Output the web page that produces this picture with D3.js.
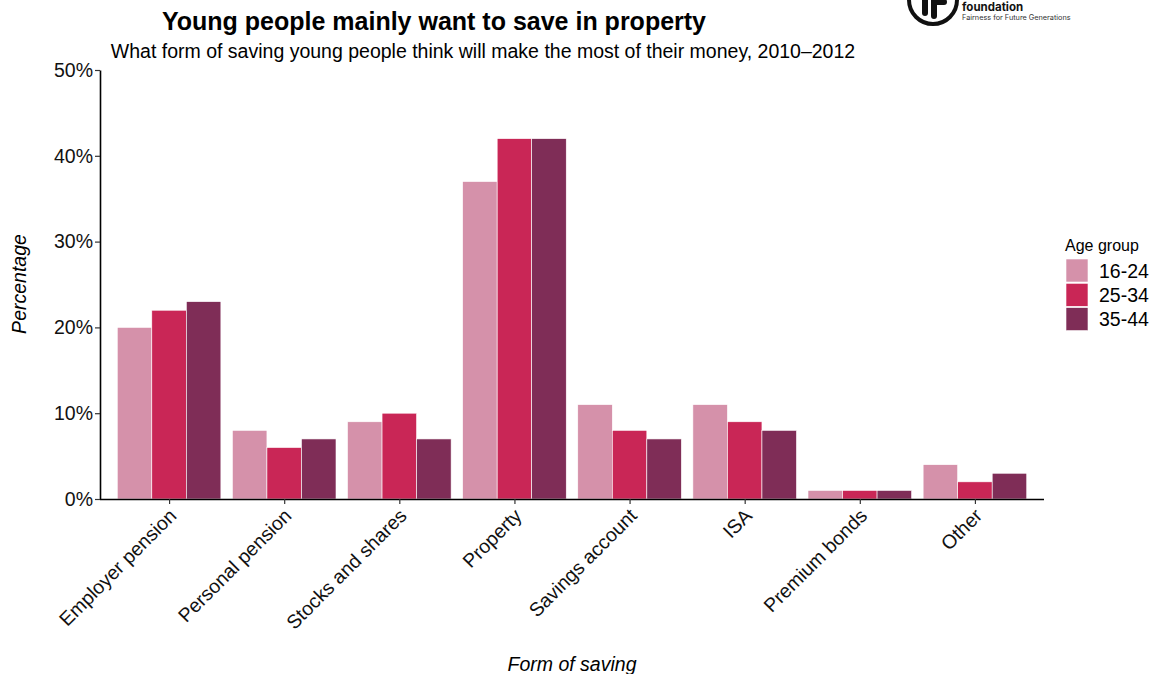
<!DOCTYPE html>
<html>
<head>
<meta charset="utf-8">
<script src="https://cdn.jsdelivr.net/npm/d3@7"></script>
<style>
  html, body { margin: 0; padding: 0; background: #fff; }
  svg { display: block; font-family: "Liberation Sans", Arial, sans-serif; }
</style>
</head>
<body>
<svg id="chart" width="1157" height="674"></svg>
<script>
// Survey categories and per-age-group shares (%)
const categories = ["Employer pension", "Personal pension", "Stocks and shares", "Property",
                    "Savings account", "ISA", "Premium bonds", "Other"];
const ageGroups = ["16-24", "25-34", "35-44"];
const values1624 = [20, 8, 9, 37, 11, 11, 1, 4];
const values2534 = [22, 6, 10, 42, 8, 9, 1, 2];
const values3544 = [23, 7, 7, 42, 7, 8, 1, 3];
const yTicks = [0, 10, 20, 30, 40, 50];
const colours = ["#d591aa", "#c92656", "#7f2d57"];

const seriesValues = [values1624, values2534, values3544];
const rows = [];
categories.forEach((c, i) => {
  ageGroups.forEach((g, j) => rows.push({ category: c, group: g, value: seriesValues[j][i] }));
});

const svg = d3.select("#chart");
const plotLeft = 100, plotRight = 1044, plotTop = 70, plotBottom = 499;
const labelSize = 19.5;

// discrete scale with 0.6-step padding either side
const step = (plotRight - plotLeft) / (categories.length - 1 + 1.2);
const xCenter = d3.scalePoint().domain(categories)
  .range([plotLeft + 0.6 * step, plotRight - 0.6 * step]);
const groupWidth = step * 0.9;
const xInner = d3.scaleBand().domain(ageGroups).range([-groupWidth / 2, groupWidth / 2]).padding(0);
const y = d3.scaleLinear().domain([0, 50]).range([plotBottom, plotTop]);
const colour = d3.scaleOrdinal().domain(ageGroups).range(colours);

// bars
svg.append("g").selectAll("rect").data(rows).join("rect")
  .attr("x", d => xCenter(d.category) + xInner(d.group))
  .attr("width", xInner.bandwidth())
  .attr("y", d => y(d.value))
  .attr("height", d => y(0) - y(d.value))
  .attr("fill", d => colour(d.group))
  .attr("stroke", "#fff")
  .attr("stroke-width", 0.6);

// y axis
const yAxis = svg.append("g").attr("transform", `translate(${plotLeft},0)`)
  .call(d3.axisLeft(y).tickValues(yTicks).tickFormat(d => d + "%").tickSize(5).tickSizeOuter(0));
yAxis.select(".domain").attr("stroke", "#000").attr("stroke-width", 1.6);
yAxis.selectAll(".tick line").attr("stroke", "#333").attr("stroke-width", 1.2);
yAxis.selectAll(".tick text").attr("font-size", labelSize).attr("fill", "#111")
  .attr("x", -7).attr("font-family", "Liberation Sans, Arial, sans-serif");

// x axis
const xAxis = svg.append("g").attr("transform", `translate(0,${plotBottom})`)
  .call(d3.axisBottom(xCenter).tickSize(5).tickSizeOuter(0));
xAxis.select(".domain").attr("stroke", "#000").attr("stroke-width", 1.6)
  .attr("d", `M${plotLeft},0.5H${plotRight}`);
xAxis.selectAll(".tick line").attr("stroke", "#333").attr("stroke-width", 1.2);
xAxis.selectAll(".tick text")
  .attr("font-size", labelSize).attr("fill", "#111")
  .attr("font-family", "Liberation Sans, Arial, sans-serif")
  .attr("text-anchor", "end")
  .attr("dy", null).attr("y", 0)
  .attr("transform", "translate(8,18) rotate(-45)");

// titles
svg.append("text").attr("x", 434).attr("y", 30).attr("text-anchor", "middle")
  .attr("font-size", 25).attr("font-weight", "bold").attr("fill", "#000")
  .text("Young people mainly want to save in property");
svg.append("text").attr("x", 483).attr("y", 58).attr("text-anchor", "middle")
  .attr("font-size", 19.5).attr("fill", "#000")
  .text("What form of saving young people think will make the most of their money, 2010–2012");

// axis titles
svg.append("text").attr("transform", "translate(26,284) rotate(-90)").attr("text-anchor", "middle")
  .attr("font-size", labelSize).attr("font-style", "italic").attr("fill", "#000").text("Percentage");
svg.append("text").attr("x", 572).attr("y", 671).attr("text-anchor", "middle")
  .attr("font-size", labelSize).attr("font-style", "italic").attr("fill", "#000").text("Form of saving");

// legend
const legend = svg.append("g").attr("transform", "translate(1065,251)");
legend.append("text").attr("x", 0).attr("y", 0).attr("font-size", 16).attr("fill", "#000").text("Age group");
ageGroups.forEach((g, i) => {
  legend.append("rect").attr("x", 1).attr("y", 8 + i * 24.3).attr("width", 22).attr("height", 23)
    .attr("fill", colour(g)).attr("stroke", "#fff").attr("stroke-width", 0.6);
  legend.append("text").attr("x", 34).attr("y", 8 + i * 24.3 + 18.5).attr("font-size", labelSize)
    .attr("fill", "#000").text(g);
});

// foundation logo
const logo = svg.append("g").attr("transform", "translate(933,0)");
logo.append("circle").attr("r", 24).attr("fill", "#fff").attr("stroke", "#111").attr("stroke-width", 4);
logo.append("rect").attr("x", -11).attr("y", -20).attr("width", 6).attr("height", 36).attr("rx", 3).attr("fill", "#111");
logo.append("path").attr("d", "M1,16 V-6 Q1,-12 7,-12 H13 M1,2 H11")
  .attr("fill", "none").attr("stroke", "#111").attr("stroke-width", 6).attr("stroke-linecap", "round");
svg.append("text").attr("x", 962).attr("y", 11).attr("font-family", "Inter, 'Open Sans', sans-serif")
  .attr("font-size", 11.5).attr("font-weight", "bold").attr("fill", "#111").text("foundation");
svg.append("text").attr("x", 962).attr("y", 20).attr("font-family", "Inter, 'Open Sans', sans-serif")
  .attr("font-size", 7.3).attr("fill", "#333").text("Fairness for Future Generations");
</script>
</body>
</html>
